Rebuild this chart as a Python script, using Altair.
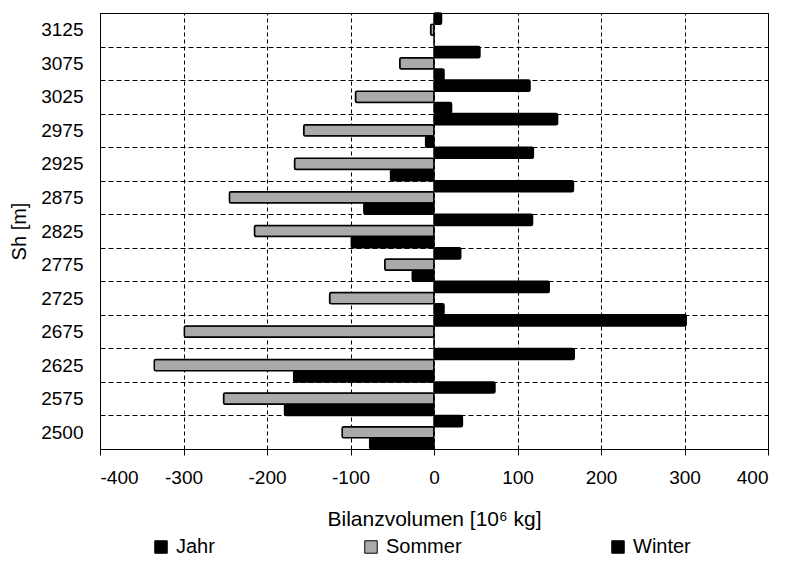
import altair as alt
import pandas as pd

heights = ["3125", "3075", "3025", "2975", "2925", "2875", "2825",
           "2775", "2725", "2675", "2625", "2575", "2500"]
jahr = [0, 12, 21, -10, -52, -84, -99, -26, 12, 0, -168, -179, -77]
sommer = [-4, -41, -94, -156, -167, -245, -215, -59, -125, -299, -335, -252, -110]
winter = [9, 55, 115, 148, 119, 167, 118, 32, 138, 302, 168, 73, 34]
series = ["Jahr", "Sommer", "Winter"]
x_ticks = [-400, -300, -200, -100, 0, 100, 200, 300, 400]

rows = []
for i, h in enumerate(heights):
    rows.append({"Sh": h, "Serie": "Jahr", "Wert": jahr[i]})
    rows.append({"Sh": h, "Serie": "Sommer", "Wert": sommer[i]})
    rows.append({"Sh": h, "Serie": "Winter", "Wert": winter[i]})
df = pd.DataFrame(rows)

FONT = "Liberation Sans"

chart = alt.Chart(df).mark_bar(stroke="black", strokeWidth=1.5, cornerRadius=1.5).encode(
    x=alt.X("Wert:Q",
            scale=alt.Scale(domain=[-400, 400], nice=False),
            axis=alt.Axis(values=x_ticks, title="Bilanzvolumen [10⁶ kg]",
                          labelExpr="'' + datum.value",
                          grid=True, gridDash=[4, 3], gridColor="black", gridWidth=1,
                          gridOpacity=1, tickSize=6, labelPadding=13, titlePadding=21,
                          labelFontSize=19, titleFontSize=21)),
    y=alt.Y("Sh:N", sort=heights,
            scale=alt.Scale(paddingInner=0, paddingOuter=0),
            axis=alt.Axis(title="Sh [m]", tickBand="extent", ticks=False,
                          labelPadding=17, grid=True, gridDash=[5, 3],
                          gridColor="black", gridWidth=1, gridOpacity=1,
                          labelFontSize=19, titleFontSize=20, titlePadding=11)),
    yOffset=alt.YOffset("Serie:N", sort=["Winter", "Sommer", "Jahr"],
                        scale=alt.Scale(paddingInner=0, paddingOuter=0)),
    color=alt.Color("Serie:N", sort=series,
                    scale=alt.Scale(domain=series, range=["#000000", "#aaaaaa", "#000000"]),
                    legend=alt.Legend(orient="none", legendX=51, legendY=524,
                                      direction="horizontal", title=None,
                                      symbolType="square", symbolSize=156,
                                      symbolStrokeColor="black", symbolStrokeWidth=1,
                                      labelFontSize=20, labelOffset=5,
                                      columnPadding=146, padding=0)),
).properties(
    width=668, height=436,
    autosize=alt.AutoSizeParams(type="none"),
    padding={"left": 92, "top": 5, "right": 14, "bottom": 108}
).configure_view(
    stroke="black", strokeWidth=1
).configure_axis(
    labelFont=FONT, titleFont=FONT, labelColor="black", titleColor="black",
    domainColor="black", tickColor="black", titleFontWeight="normal"
).configure_legend(
    labelFont=FONT, labelColor="black"
)

chart.save("out.html", embed_options={"renderer": "svg", "actions": False})
